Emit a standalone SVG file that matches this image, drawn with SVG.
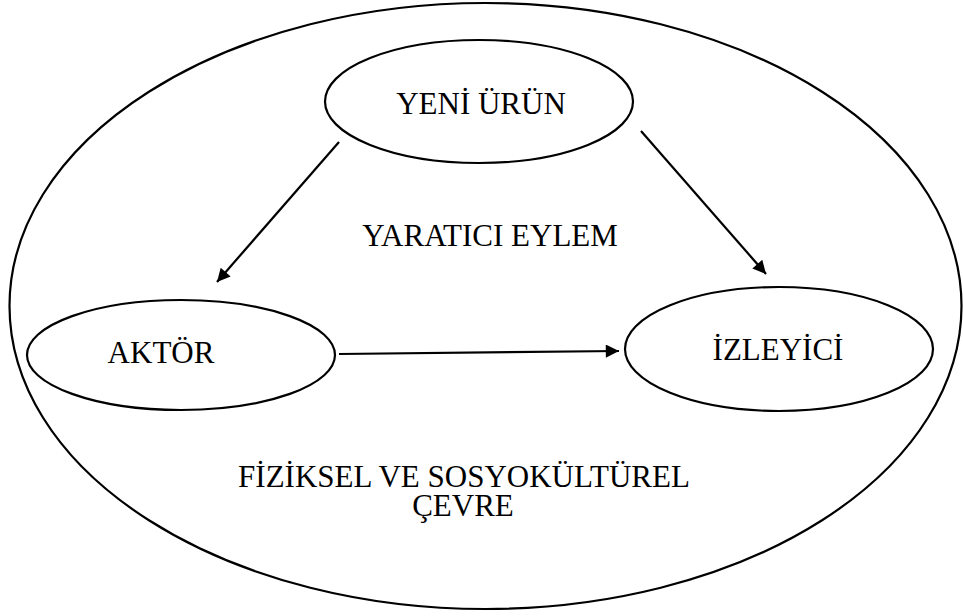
<svg xmlns="http://www.w3.org/2000/svg" width="963" height="616" viewBox="0 0 963 616">
<style>
.sh{fill:none;stroke:#000;stroke-width:2.2}
.t{font-family:"Liberation Serif","Times New Roman",serif;font-size:31px;fill:#000;text-anchor:middle}
.c{stroke:#000;stroke-width:2.2;fill:none;marker-end:url(#ah)}
</style>
<defs>
<marker id="ah" viewBox="0 0 10 10" refX="10" refY="5" markerWidth="7.5" markerHeight="6" markerUnits="strokeWidth" orient="auto">
<path d="M0,0 L10,5 L0,10 z" fill="#000"/>
</marker>
</defs>
<rect width="963" height="616" fill="#fff"/>
<g id="cevre">
<ellipse class="sh" cx="485.5" cy="306" rx="476" ry="303"/>
<text class="t" x="464" y="487">FİZİKSEL VE SOSYOKÜLTÜREL</text>
<text class="t" x="463" y="516">ÇEVRE</text>
</g>
<g id="yaratici-eylem">
<text class="t" x="490" y="246">YARATICI EYLEM</text>
</g>
<g id="yeni-urun">
<ellipse class="sh" cx="479" cy="101.5" rx="154" ry="61.5"/>
<text class="t" x="481" y="114">YENİ ÜRÜN</text>
</g>
<g id="aktor">
<ellipse class="sh" cx="181" cy="355" rx="154" ry="55"/>
<text class="t" x="161" y="363">AKTÖR</text>
</g>
<g id="izleyici">
<ellipse class="sh" cx="779" cy="349" rx="154" ry="62"/>
<text class="t" x="778" y="360">İZLEYİCİ</text>
</g>
<g id="connectors">
<line class="c" x1="339" y1="142" x2="217" y2="282"/>
<line class="c" x1="641" y1="131" x2="766" y2="274"/>
<line class="c" x1="339" y1="354" x2="619" y2="351"/>
</g>
</svg>
